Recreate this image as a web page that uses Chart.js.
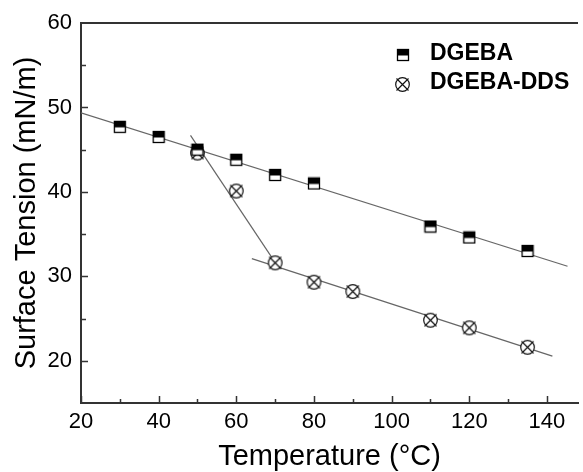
<!DOCTYPE html>
<html>
<head>
<meta charset="utf-8">
<script src="https://cdn.jsdelivr.net/npm/chart.js@4.4.1/dist/chart.umd.min.js"></script>
<style>
  html, body { margin: 0; padding: 0; background: #fff; }
  #wrap { width: 583px; height: 472px; }
</style>
</head>
<body>
<div id="wrap"><canvas id="chart"></canvas></div>
<script>
// measured points
const temps = [30, 40, 50, 60, 70, 80, 110, 120, 135];
const dgeba = [47.7, 46.5, 45.0, 43.8, 42.0, 41.0, 35.9, 34.6, 33.0];
const tempsDDS = [50, 60, 70, 80, 90, 110, 120, 135];
const dgebaDDS = [44.6, 40.1, 31.6, 29.3, 28.2, 24.8, 23.9, 21.6];

// linear fits, end points
const fitDgebaX = [20, 145.3];
const fitDgebaY = [49.35, 31.2];
const fitSteepX = [48.2, 70.5];
const fitSteepY = [46.7, 31.3];
const fitSlowX = [64, 141.4];
const fitSlowY = [32.1, 20.55];

const xTickLabels = [20, 40, 60, 80, 100, 120, 140];
const yTickLabels = [20, 30, 40, 50, 60];

const family = '"Liberation Sans", Arial, Helvetica, sans-serif';

function squareMarker() {
  const c = document.createElement('canvas');
  c.width = 14; c.height = 14;
  const g = c.getContext('2d');
  g.fillStyle = '#fff';
  g.fillRect(1, 1, 12, 12);
  g.fillStyle = '#000';
  g.fillRect(1, 1, 12, 6.5);
  g.strokeStyle = '#000';
  g.lineWidth = 1.3;
  g.strokeRect(1.5, 1.5, 11, 11);
  return c;
}

function circleXMarker() {
  const c = document.createElement('canvas');
  c.width = 17; c.height = 17;
  const g = c.getContext('2d');
  g.fillStyle = '#fff';
  g.strokeStyle = '#111';
  g.lineWidth = 1.2;
  g.beginPath();
  g.arc(8.5, 8.5, 6.8, 0, Math.PI * 2);
  g.fill();
  g.stroke();
  g.beginPath();
  g.moveTo(2.5, 2.5); g.lineTo(14.5, 14.5);
  g.moveTo(14.5, 2.5); g.lineTo(2.5, 14.5);
  g.stroke();
  return c;
}

function pairs(xs, ys) {
  return xs.map((x, i) => ({x: x, y: ys[i]}));
}

function fitLine(label, xs, ys) {
  return {
    label: label,
    data: pairs(xs, ys),
    showLine: true,
    borderColor: '#666',
    borderWidth: 1.2,
    pointRadius: 0
  };
}

// legend drawn inside the plot, top right
const insideLegend = {
  id: 'insideLegend',
  afterDraw(chart) {
    const ctx = chart.ctx;
    const rows = [{text: 53.5, mark: 55}, {text: 82.5, mark: 84.5}];
    ctx.save();
    ctx.font = 'bold 23px ' + family;
    ctx.textBaseline = 'middle';
    ctx.textAlign = 'left';
    ctx.fillStyle = '#000';
    chart.data.datasets.slice(0, 2).forEach((ds, i) => {
      const img = ds.pointStyle;
      ctx.drawImage(img, Math.round(402.5 - img.width / 2), Math.round(rows[i].mark - img.height / 2));
      ctx.fillText(ds.label, 430, rows[i].text);
    });
    ctx.restore();
  }
};

// inward tick marks and the top frame line
const frame = {
  id: 'frame',
  afterDraw(chart) {
    const {ctx, chartArea: a, scales: {x, y}} = chart;
    ctx.save();
    ctx.strokeStyle = '#333';
    ctx.lineWidth = 1.5;
    ctx.beginPath();
    for (let v = 20; v <= 140; v += 10) {
      const px = Math.round(x.getPixelForValue(v)) + 0.5;
      const len = v % 20 === 0 ? 7 : 4;
      ctx.moveTo(px, a.bottom);
      ctx.lineTo(px, a.bottom - len);
    }
    for (let v = 20; v < 60; v += 5) {
      const py = Math.round(y.getPixelForValue(v)) + 0.5;
      const len = v % 10 === 0 ? 7 : 5;
      ctx.moveTo(a.left, py);
      ctx.lineTo(a.left + len, py);
    }
    ctx.stroke();
    ctx.lineWidth = 2;
    ctx.beginPath();
    ctx.moveTo(a.left, a.top);
    ctx.lineTo(a.right, a.top);
    ctx.stroke();
    ctx.restore();
  }
};

new Chart(document.getElementById('chart'), {
  type: 'scatter',
  data: {
    datasets: [
      {label: 'DGEBA', data: pairs(temps, dgeba), pointStyle: squareMarker()},
      {label: 'DGEBA-DDS', data: pairs(tempsDDS, dgebaDDS), pointStyle: circleXMarker()},
      fitLine('DGEBA fit', fitDgebaX, fitDgebaY),
      fitLine('DGEBA-DDS fit 1', fitSteepX, fitSteepY),
      fitLine('DGEBA-DDS fit 2', fitSlowX, fitSlowY)
    ]
  },
  options: {
    responsive: true,
    maintainAspectRatio: false,
    animation: false,
    events: [],
    layout: {padding: {top: 23, left: 0, right: 0, bottom: 0}},
    plugins: {legend: {display: false}, tooltip: {enabled: false}},
    scales: {
      x: {
        type: 'linear',
        min: 20,
        max: 148,
        afterBuildTicks: s => { s.ticks = xTickLabels.map(v => ({value: v})); },
        afterFit: s => { s.height = 69; },
        grid: {display: false, drawTicks: false},
        border: {display: true, color: '#333', width: 2},
        ticks: {color: '#000', font: {size: 22, family: family}, padding: 6, maxRotation: 0, autoSkip: false},
        title: {display: true, text: 'Temperature (°C)', color: '#000',
                font: {size: 29, family: family, lineHeight: 1}, padding: {top: 0, bottom: 1}}
      },
      y: {
        type: 'linear',
        min: 15,
        max: 60,
        afterBuildTicks: s => { s.ticks = yTickLabels.map(v => ({value: v})); },
        afterFit: s => { s.width = 81; },
        grid: {display: false, drawTicks: false},
        border: {display: true, color: '#333', width: 2},
        ticks: {color: '#000', font: {size: 22, family: family}, padding: 9, autoSkip: false},
        title: {display: true, text: 'Surface Tension (mN/m)', color: '#000',
                font: {size: 29, family: family}, padding: {top: 10, bottom: 0}}
      }
    }
  },
  plugins: [frame, insideLegend]
});
</script>
</body>
</html>
